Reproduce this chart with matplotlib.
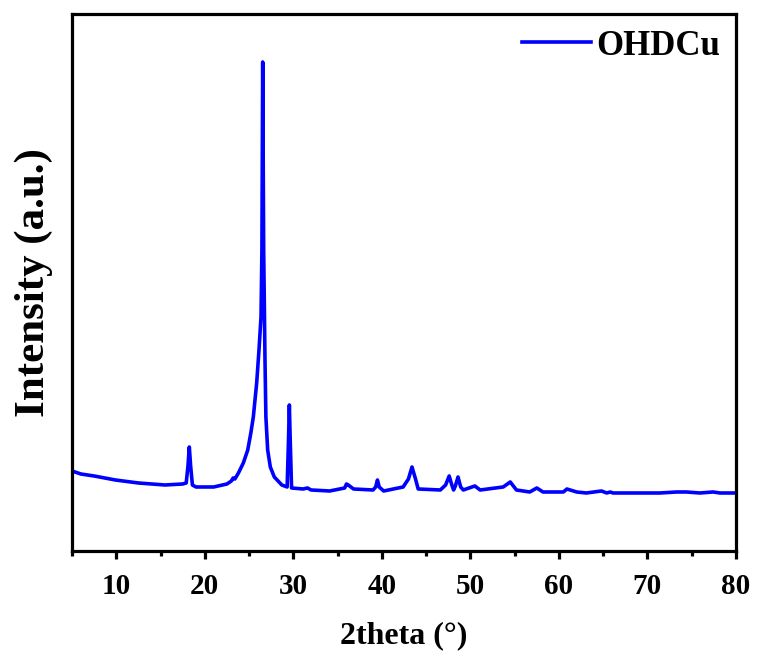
import matplotlib
matplotlib.use('Agg')
import matplotlib.pyplot as plt
from matplotlib.ticker import MultipleLocator

two_theta = [5.0, 6.0, 7.5, 9.9, 12.5, 15.5, 17.5, 17.9, 18.1, 18.25, 18.4,
             18.6, 19.0, 21.0, 22.5, 23.0, 23.2, 23.4, 23.8, 24.35, 24.85,
             25.2, 25.48, 25.86, 26.12, 26.35, 26.45, 26.54, 26.65, 26.72,
             26.8, 26.9, 27.1, 27.4, 27.85, 28.7, 29.3, 29.45, 29.55, 29.65,
             29.8, 31.1, 31.6, 32.0, 34.1, 35.8, 36.0, 36.2, 36.8, 39.0,
             39.3, 39.5, 39.7, 40.2, 42.4, 43.0, 43.4, 43.8, 44.1, 46.6,
             47.2, 47.6, 47.9, 48.1, 48.3, 48.6, 48.9, 49.2, 50.5, 51.1,
             53.7, 54.5, 55.2, 56.7, 57.5, 58.2, 60.5, 60.9, 62.0, 63.1,
             64.8, 65.4, 65.8, 66.1, 69.5, 71.4, 73.3, 74.4, 75.9, 77.4,
             78.2, 80.0]
intensity = [80, 77, 75, 71, 68, 66, 67, 68, 85, 104, 85,
             66, 64, 64, 67, 70, 73, 72, 78, 88, 101,
             118, 134, 168, 201, 234, 300, 489, 300, 250,
             190, 134, 101, 84, 74, 66, 64, 110, 146, 110,
             63, 62, 63, 61, 60, 63, 67, 66, 62, 61,
             64, 71, 64, 60, 64, 72, 84, 72, 62, 61,
             66, 75, 66, 61, 65, 74, 64, 61, 65, 61,
             64, 69, 61, 59, 63, 59, 59, 62, 59, 58,
             60, 58, 59, 58, 58, 58, 59, 59, 58, 59,
             58, 58]

plt.rcParams['font.family'] = ['Liberation Serif', 'DejaVu Serif']
plt.rcParams['font.weight'] = 'bold'

fig = plt.figure(figsize=(7.57, 6.59), dpi=100)
ax = fig.add_axes([0.0951, 0.1639, 0.8772, 0.8149])

ax.plot(two_theta, intensity, '-', color='#0000ff', linewidth=2.6,
        solid_joinstyle='round', label='OHDCu')

ax.set_xlim(5, 80)
ax.set_ylim(0, 537)
ax.xaxis.set_major_locator(MultipleLocator(10))
ax.xaxis.set_minor_locator(MultipleLocator(5))
ax.set_yticks([])

for s in ax.spines.values():
    s.set_linewidth(2.3)

ax.tick_params(axis='x', which='major', direction='out', length=6,
               width=2.3, labelsize=21, pad=10)
ax.tick_params(axis='x', which='minor', direction='out', length=3.5,
               width=2.3)
for lab in ax.get_xticklabels():
    lab.set_fontweight('bold')

ax.set_xlabel('2theta (°)', fontsize=23, fontweight='bold', labelpad=15)
ax.set_ylabel('Intensity (a.u.)', fontsize=31, fontweight='bold',
              labelpad=14)

ax.legend(loc='upper right', frameon=False, handlelength=2.0,
          handletextpad=0.15, borderaxespad=0.05,
          prop={'weight': 'bold', 'size': 25})

fig.savefig('out.png', dpi=100)
